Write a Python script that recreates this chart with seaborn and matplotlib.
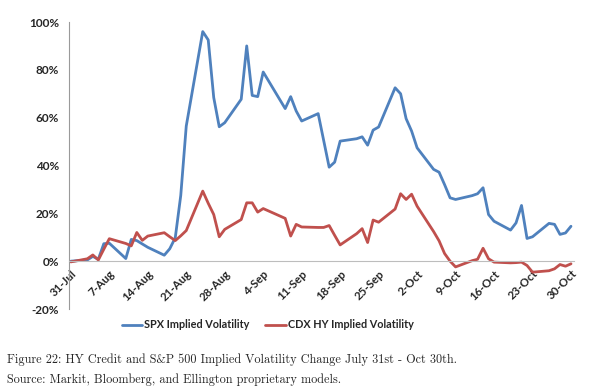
import pandas as pd
import numpy as np
import seaborn as sns
import matplotlib.pyplot as plt
import matplotlib.ticker as mticker
import matplotlib.dates as mdates

# business days 31-Jul-2015 .. 30-Oct-2015 (Labor Day off)
dates = pd.bdate_range('2015-07-31', '2015-10-30', freq='C', holidays=['2015-09-07'])

spx = [0.0,
       0.5, 2.0, 0.8, 7.3, 7.5,
       1.1, 9.1, 8.6, 7.2, 5.8,
       2.5, 5.2, 9.8, 27.5, 56.5,
       96.0, 92.5, 68.4, 56.2, 57.9,
       67.7, 90.0, 69.3, 68.8, 79.1,
       63.8, 68.8, 62.8, 58.6,
       61.7, 50.5, 39.3, 41.4, 50.2,
       51.2, 52.0, 48.5, 54.8, 56.1,
       72.5, 70.0, 59.6, 54.4, 47.4,
       38.4, 37.2, 32.0, 26.5, 25.8,
       27.4, 28.2, 30.7, 19.5, 16.7,
       13.0, 16.0, 23.3, 9.5, 10.2,
       15.8, 15.4, 11.2, 11.8, 14.6]

cdx = [-0.3,
       1.0, 2.6, 0.5, 5.0, 9.4,
       7.4, 6.4, 12.0, 8.7, 10.5,
       11.9, 10.2, 8.6, 10.6, 12.8,
       29.3, 24.2, 19.5, 10.2, 13.3,
       17.4, 24.4, 24.4, 20.5, 22.0,
       17.9, 10.5, 15.4, 14.3,
       14.1, 14.1, 14.9, 10.8, 6.8,
       11.5, 13.6, 7.8, 17.2, 16.3,
       21.8, 28.2, 25.8, 28.0, 23.0,
       12.4, 8.5, 3.2, 0.0, -2.4,
       0.2, 0.8, 5.4, 1.0, -0.4,
       -0.7, -0.6, -0.4, -1.8, -4.6,
       -4.0, -3.2, -1.4, -2.1, -1.1]

series_names = ['SPX Implied Volatility', 'CDX HY Implied Volatility']
colors = ['#4F81BD', '#C0504D']
y_ticks = [-20, 0, 20, 40, 60, 80, 100]
caption = ['Figure 22: HY Credit and S&P 500 Implied Volatility Change July 31st - Oct 30th.',
           'Source: Markit, Bloomberg, and Ellington proprietary models.']

df = pd.concat([
    pd.DataFrame({'date': dates, 'value': spx, 'series': series_names[0]}),
    pd.DataFrame({'date': dates, 'value': cdx, 'series': series_names[1]}),
])

sns.set_style('white')
plt.rcParams['font.family'] = ['Lato', 'DejaVu Sans']

fig = plt.figure(figsize=(6, 3.91), dpi=100)
ax = fig.add_axes([0.115, 0.2097, 0.842, 0.734])

sns.lineplot(data=df, x='date', y='value', hue='series', palette=colors,
             linewidth=2.0, ax=ax)

ax.set_ylim(-20, 100)
ax.set_yticks(y_ticks)
ax.yaxis.set_major_formatter(mticker.FuncFormatter(lambda v, p: f'{v:.0f}%'))
ax.set_xlim(dates[0] - pd.Timedelta(hours=8), dates[-1] + pd.Timedelta(hours=14))
ax.set_xticks(pd.date_range('2015-07-31', '2015-10-30', freq='7D'))
ax.xaxis.set_major_formatter(mticker.FuncFormatter(
    lambda v, p: f'{mdates.num2date(v).day}-{mdates.num2date(v):%b}'))
ax.set_xlabel('')
ax.set_ylabel('')

for s in ['top', 'right']:
    ax.spines[s].set_visible(False)
ax.spines['bottom'].set_position(('data', 0))
ax.spines['left'].set_color('#9a9a9a')
ax.spines['bottom'].set_color('#bdbdbd')
ax.tick_params(axis='both', direction='out', length=4, color='#9a9a9a', width=0.8)
ax.tick_params(axis='y', labelsize=8.5, pad=3)
ax.tick_params(axis='x', labelsize=8.3, pad=2, length=3)
for lbl in ax.get_yticklabels():
    lbl.set_fontweight('bold')
for lbl in ax.get_xticklabels():
    lbl.set_rotation(45)
    lbl.set_ha('right')
    lbl.set_rotation_mode('anchor')
    lbl.set_fontweight('bold')

handles, labels = ax.get_legend_handles_labels()
ax.get_legend().remove()
fig.legend(handles, labels, loc='center', bbox_to_anchor=(0.446, 0.169), ncol=2,
           frameon=False, prop={'size': 7.8, 'weight': 'bold'}, handlelength=1.9,
           handletextpad=0.15, columnspacing=1.5)

fig.text(0.012, 0.079, caption[0], family='cmr10', fontsize=8.8, va='center')
fig.text(0.012, 0.028, caption[1], family='cmr10', fontsize=8.8, va='center')

fig.savefig('out.png', dpi=100)
